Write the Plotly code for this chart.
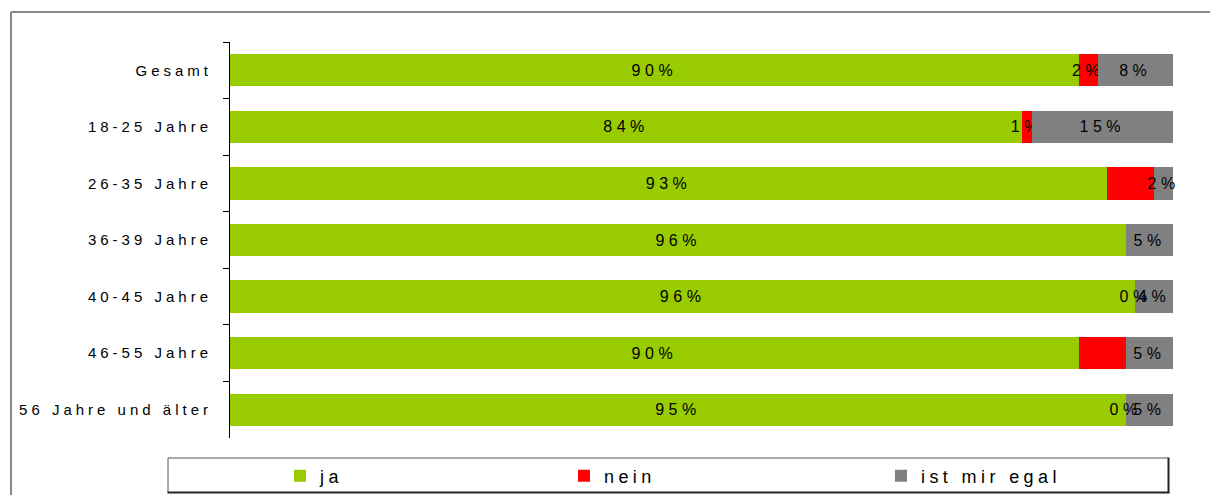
import plotly.graph_objects as go

# Survey answers per age group (percent)
categories = ["Gesamt", "18-25 Jahre", "26-35 Jahre", "36-39 Jahre",
              "40-45 Jahre", "46-55 Jahre", "56 Jahre und älter"]
ja = [90, 84, 93, 96, 96, 90, 95]
nein = [2, 1, 5, 0, 0, 5, 0]
egal = [8, 15, 2, 5, 4, 5, 5]

# which value labels are printed on the bars
ja_shown = [True, True, True, True, True, True, True]
nein_shown = [True, True, False, False, True, False, True]
egal_shown = [True, True, True, True, True, True, True]

series_names = ["ja", "nein", "ist mir egal"]
series_colors = ["#99CC00", "#FF0000", "#808080"]

# page geometry (pixels)
FIG_W, FIG_H = 1210, 495
L, R, T, B = 230, 1173, 42, 438
PW, PH = R - L, B - T


def px_x(p):
    return (p - L) / PW


def px_y(p):
    return (B - p) / PH


FONT = "Arial, Liberation Sans, sans-serif"
series = [
    (series_names[0], ja, ja_shown, series_colors[0], 300),
    (series_names[1], nein, nein_shown, series_colors[1], 584),
    (series_names[2], egal, egal_shown, series_colors[2], 901),
]
totals = [a + b + c for a, b, c in zip(ja, nein, egal)]

fig = go.Figure()
legend_layouts = {}
annotations = []
for k, (name, vals, shown, color, legend_px) in enumerate(series):
    lg = "legend" if k == 0 else f"legend{k + 1}"
    labels = [f"{v}%" if s and v > 0 else "" for v, s in zip(vals, shown)]
    fig.add_trace(go.Bar(
        y=categories, x=vals, orientation="h", name=name,
        marker=dict(color=color, line=dict(width=0)),
        text=labels, textposition="inside", insidetextanchor="middle",
        textangle=0, constraintext="none", cliponaxis=False,
        textfont=dict(family=FONT, size=16, color="#000000"),
        legend=lg,
    ))
    legend_layouts[lg] = dict(
        x=px_x(legend_px - 20), xanchor="left",
        y=px_y(476), yanchor="middle", orientation="h",
        entrywidth=230, entrywidthmode="pixels",
        bgcolor="rgba(0,0,0,0)", borderwidth=0,
        font=dict(family=FONT, size=18, color="#000000"),
    )

# labels of zero-width segments sit on the segment boundary
for i, cat in enumerate(categories):
    start = 0
    for name, vals, shown, color, _ in series:
        if shown[i] and vals[i] == 0:
            annotations.append(dict(
                x=(start + vals[i] / 2) / totals[i] * 100, y=cat,
                xref="x", yref="y", text=f"{vals[i]}%", showarrow=False,
                xanchor="center", yanchor="middle",
                font=dict(family=FONT, size=16, color="#000000"),
            ))
        start += vals[i]


def line(x0, y0, x1, y1, color, width):
    return dict(type="line", xref="paper", yref="paper",
                x0=px_x(x0), y0=px_y(y0), x1=px_x(x1), y1=px_y(y1),
                line=dict(color=color, width=width))


shapes = [
    # outer frame (top and left edges)
    line(11, 12, 1260, 12, "#888888", 2),
    line(11, 12, 11, 560, "#888888", 2),
    # legend frame with a darker lower-right edge
    line(168, 458, 1168, 458, "#555555", 1),
    line(168, 458, 168, 492, "#555555", 1),
    line(1168.5, 457.5, 1168.5, 493, "#222222", 2),
    line(167.5, 492.5, 1169.5, 492.5, "#222222", 2),
]

fig.update_layout(
    width=FIG_W, height=FIG_H,
    margin=dict(l=L, r=FIG_W - R, t=T, b=FIG_H - B, pad=0, autoexpand=False),
    barmode="stack", barnorm="percent", bargap=0.43,
    paper_bgcolor="white", plot_bgcolor="white",
    font=dict(family=FONT, size=15, color="#000000"),
    showlegend=True,
    xaxis=dict(visible=False, range=[0, 100], fixedrange=True),
    yaxis=dict(
        autorange="reversed", showline=True, linecolor="#000000", linewidth=1,
        ticks="outside", ticklen=6, tickcolor="#000000", tickwidth=1,
        tickson="boundaries", showgrid=False, zeroline=False,
        tickfont=dict(family=FONT, size=15, color="#000000"),
        ticklabelstandoff=14, fixedrange=True,
    ),
    shapes=shapes,
    annotations=annotations,
    **legend_layouts,
)

# wide letter spacing of the chart's typography
post = """
var css = document.createElement('style');
css.textContent =
  '.ytick text { letter-spacing: 4px; }' +
  '.bartext, .annotation-text { letter-spacing: 4.5px; }' +
  '.infolayer text[class*="legend"], .infolayer text[class*="legend"] tspan' +
  ' { letter-spacing: 4.4px !important; }';
document.head.appendChild(css);
"""

fig.write_html("out.html", post_script=post, config={"displayModeBar": False})
